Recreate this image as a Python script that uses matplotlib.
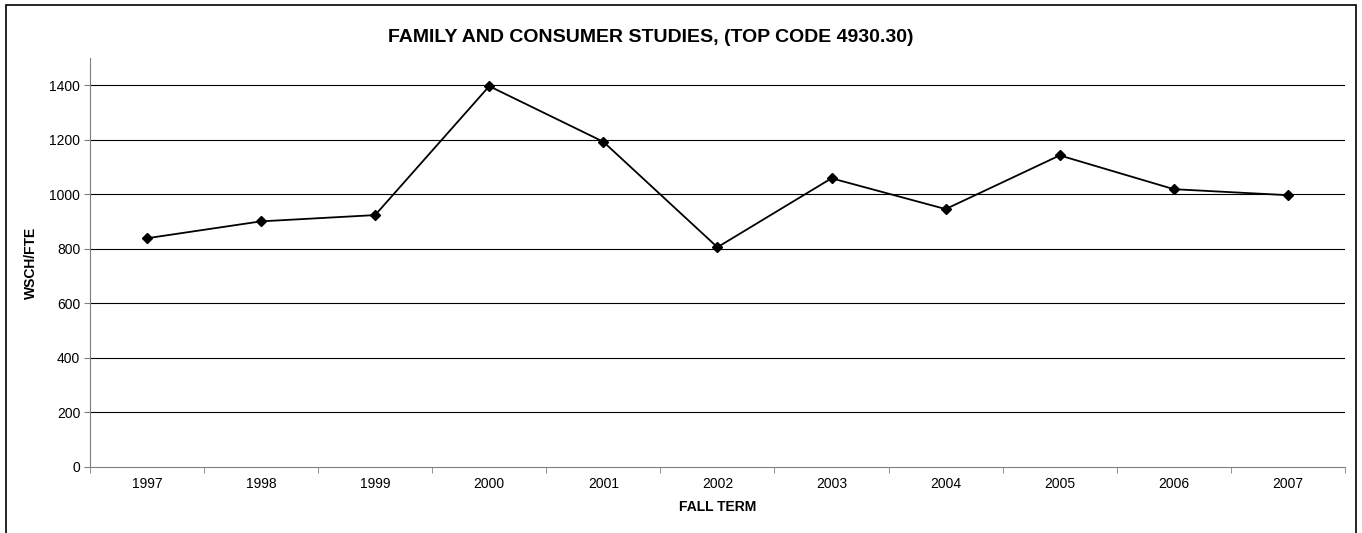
import matplotlib.pyplot as plt
import numpy as np
from matplotlib.patches import Rectangle

plt.rcParams["font.family"] = ["Liberation Sans", "DejaVu Sans"]

years = ["1997", "1998", "1999", "2000", "2001", "2002", "2003", "2004", "2005", "2006", "2007"]
wsch_fte = [839, 901, 924, 1397, 1193, 806, 1059, 946, 1143, 1019, 997]
y_ticks = [0, 200, 400, 600, 800, 1000, 1200, 1400]

fig = plt.figure(figsize=(13.62, 5.33), dpi=100)
ax = fig.add_axes([0.066, 0.124, 0.9215, 0.767])

x = np.arange(len(years))
ax.plot(x, wsch_fte, color="black", linewidth=1.3, marker="D", markersize=5.5, zorder=3)

ax.set_xlim(-0.5, len(years) - 0.5)
ax.set_ylim(0, 1500)
ax.set_yticks(y_ticks)
for t in y_ticks[1:]:
    ax.axhline(t, color="black", linewidth=0.8, zorder=1)

# category labels centred, tick marks on the bin edges
ax.set_xticks(x)
ax.set_xticklabels(years, fontsize=10)
ax.tick_params(axis="x", which="major", length=0, pad=7)
ax.set_xticks(np.arange(-0.5, len(years)), minor=True)
ax.tick_params(axis="x", which="minor", length=4, color="#808080", direction="out")
ax.tick_params(axis="y", labelsize=10, length=4, color="#808080", pad=3)

for side in ["top", "right"]:
    ax.spines[side].set_visible(False)
for side in ["left", "bottom"]:
    ax.spines[side].set_color("#808080")

fig.text(0.478, 1 - 37 / 533, "FAMILY AND CONSUMER STUDIES, (TOP CODE 4930.30)",
         fontsize=14, fontweight="bold", ha="center", va="center")
ax.set_xlabel("FALL TERM", fontsize=10, fontweight="bold", labelpad=7)
ax.set_ylabel("WSCH/FTE", fontsize=10, fontweight="bold", labelpad=8)

# outer chart border
fig.patches.append(Rectangle((0.0045, -0.05), 0.991, 1.041, transform=fig.transFigure,
                             fill=False, edgecolor="black", linewidth=1.2))

fig.savefig("out.png", dpi=100)
